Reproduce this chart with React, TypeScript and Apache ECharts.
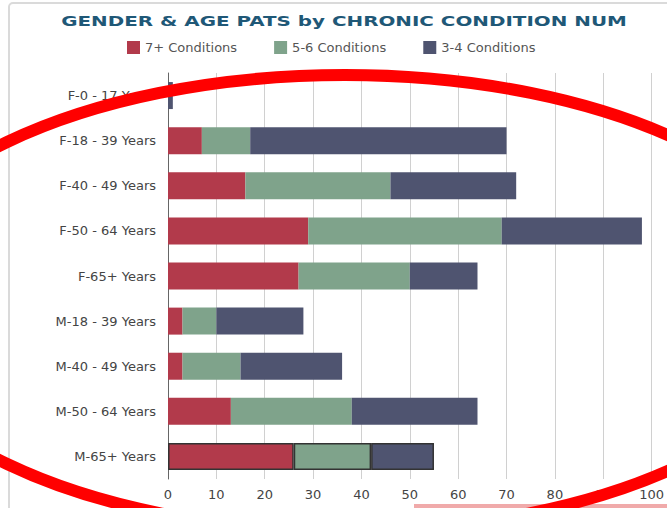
import React, { useEffect, useRef } from "react";
import * as echarts from "echarts";

const categories = [
  "F-0 - 17 Years",
  "F-18 - 39 Years",
  "F-40 - 49 Years",
  "F-50 - 64 Years",
  "F-65+ Years",
  "M-18 - 39 Years",
  "M-40 - 49 Years",
  "M-50 - 64 Years",
  "M-65+ Years",
];
const sevenPlus = [0, 7, 16, 29, 27, 3, 3, 13, 26];
const fiveSix = [0, 10, 30, 40, 23, 7, 12, 25, 16];
const threeFour = [1, 53, 26, 29, 14, 18, 21, 26, 13];
const seriesNames = ["7+ Conditions", "5-6 Conditions", "3-4 Conditions"];
const seriesColors = ["#b23a4b", "#7fa38b", "#4f5470"];
const highlightIndex = 8;
const titleText = "GENDER & AGE PATS by CHRONIC CONDITION NUM";

const FONT = '"DejaVu Sans", Verdana, sans-serif';

export default function App() {
  const ref = useRef<HTMLDivElement>(null);
  useEffect(() => {
    document.body.style.margin = "0";
    const chart = echarts.init(ref.current!, null, { renderer: "svg" });
    const values = [sevenPlus, fiveSix, threeFour];
    const option = {
      animation: false,
      backgroundColor: "#ffffff",
      textStyle: { fontFamily: FONT },
      graphic: [
        {
          type: "rect",
          z: -10,
          silent: true,
          shape: { x: 9, y: 3, width: 700, height: 540, r: 4 },
          style: { fill: "none", stroke: "#dadada", lineWidth: 2 },
        },
        {
          type: "rect",
          z: 50,
          silent: true,
          shape: { x: 414, y: 504, width: 253, height: 4 },
          style: { fill: "#f0aaaa" },
        },
        {
          type: "text",
          x: 344,
          y: 21,
          scaleX: 1.42,
          z: 60,
          style: {
            text: titleText,
            fontFamily: FONT,
            fontSize: 14,
            fontWeight: "bold",
            fill: "#1f5877",
            textAlign: "center",
            textVerticalAlign: "middle",
          },
        },
        {
          type: "ellipse",
          z: 100,
          silent: true,
          shape: { cx: 345, cy: 303, rx: 477, ry: 228 },
          style: { fill: "none", stroke: "#ff0000", lineWidth: 12 },
        },
      ],
      legend: {
        left: 122,
        top: 36,
        itemWidth: 13,
        itemHeight: 13,
        itemGap: 37,
        icon: "rect",
        data: seriesNames,
        textStyle: { fontFamily: FONT, fontSize: 13, color: "#555" },
      },
      grid: { left: 168, right: 14, top: 73, bottom: 29, containLabel: false },
      xAxis: {
        type: "value",
        min: 0,
        max: 100,
        interval: 10,
        axisLine: { show: false },
        axisTick: { show: false },
        splitLine: { lineStyle: { color: "#d0d0d0", width: 1 } },
        axisLabel: { fontFamily: FONT, fontSize: 13, color: "#444", margin: 9 },
      },
      yAxis: {
        type: "category",
        inverse: true,
        data: categories,
        axisLine: { lineStyle: { color: "#666" } },
        axisTick: { show: false },
        axisLabel: { fontFamily: FONT, fontSize: 13, color: "#444", margin: 12 },
      },
      series: seriesNames.map((name, si) => ({
        name,
        type: "bar",
        stack: "total",
        barWidth: 27,
        itemStyle: { color: seriesColors[si] },
        data: values[si].map((v, i) =>
          i === highlightIndex
            ? { value: v, itemStyle: { borderColor: "#333", borderWidth: 1.5 } }
            : v
        ),
      })),
    };
    chart.setOption(option as any);
    return () => chart.dispose();
  }, []);
  return <div ref={ref} style={{ width: 667, height: 508 }} />;
}
